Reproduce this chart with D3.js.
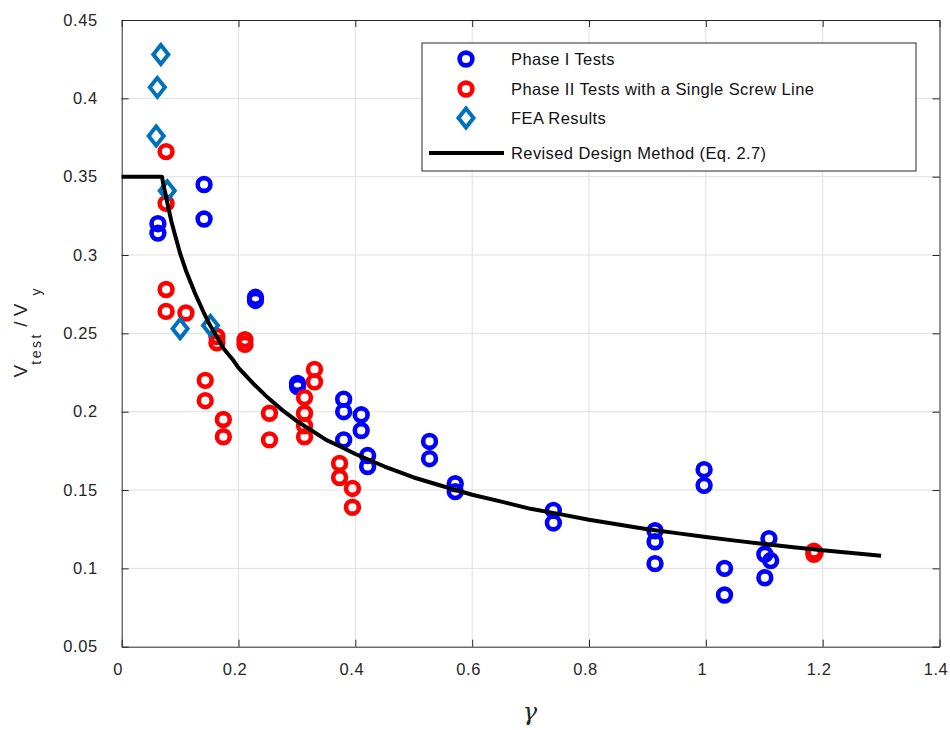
<!DOCTYPE html>
<html>
<head>
<meta charset="utf-8">
<script src="https://cdn.jsdelivr.net/npm/d3@7"></script>
<style>
  body { margin: 0; background: #fff; }
  text { font-family: "Liberation Sans", Arial, sans-serif; }
</style>
</head>
<body>
<script>
// Phase I tests (gamma, Vtest/Vy)
const phase1X = [0.062, 0.062, 0.141, 0.141, 0.229, 0.229, 0.301, 0.301, 0.380, 0.380, 0.380,
                 0.410, 0.410, 0.421, 0.421, 0.527, 0.527, 0.571, 0.571, 0.739, 0.739,
                 0.913, 0.913, 0.913, 0.997, 0.997, 1.032, 1.032, 1.108, 1.101, 1.111, 1.101];
const phase1Y = [0.320, 0.314, 0.345, 0.323, 0.273, 0.271, 0.218, 0.216, 0.208, 0.200, 0.182,
                 0.198, 0.188, 0.172, 0.165, 0.181, 0.170, 0.154, 0.149, 0.137, 0.129,
                 0.124, 0.117, 0.103, 0.163, 0.153, 0.100, 0.083, 0.119, 0.109, 0.105, 0.094];

// Phase II tests with a single screw line
const phase2X = [0.076, 0.076, 0.076, 0.076, 0.110, 0.163, 0.163, 0.211, 0.211, 0.143, 0.143,
                 0.174, 0.174, 0.253, 0.253, 0.313, 0.313, 0.313, 0.313, 0.330, 0.330,
                 0.373, 0.373, 0.395, 0.395, 1.185, 1.185, 1.187];
const phase2Y = [0.366, 0.333, 0.278, 0.264, 0.263, 0.248, 0.244, 0.246, 0.243, 0.220, 0.207,
                 0.195, 0.184, 0.199, 0.182, 0.209, 0.199, 0.191, 0.184, 0.227, 0.219,
                 0.167, 0.158, 0.151, 0.139, 0.111, 0.109, 0.110];

// FEA results
const feaX = [0.067, 0.061, 0.059, 0.078, 0.100, 0.152];
const feaY = [0.428, 0.407, 0.376, 0.341, 0.253, 0.255];

// Revised design method curve
const designX = [0, 0.069, 0.072, 0.075, 0.08, 0.085, 0.09, 0.095, 0.1, 0.11, 0.125, 0.14, 0.15,
                 0.16, 0.175, 0.19, 0.2, 0.225, 0.25, 0.275, 0.3, 0.325, 0.35, 0.375, 0.4, 0.45,
                 0.5, 0.55, 0.6, 0.65, 0.7, 0.75, 0.8, 0.85, 0.9, 0.95, 1.0, 1.05, 1.1, 1.15,
                 1.2, 1.25, 1.3];
const designY = [0.350, 0.350, 0.3437, 0.339, 0.330, 0.3216, 0.3145, 0.3078, 0.301, 0.290, 0.276,
                 0.2636, 0.256, 0.2498, 0.240, 0.2333, 0.228, 0.218, 0.209, 0.201, 0.194, 0.188,
                 0.182, 0.1776, 0.173, 0.165, 0.158, 0.1524, 0.147, 0.1426, 0.138, 0.1346, 0.131,
                 0.128, 0.125, 0.1225, 0.120, 0.1177, 0.1155, 0.1135, 0.1116, 0.1098, 0.108];

const xTicks = [0, 0.2, 0.4, 0.6, 0.8, 1, 1.2, 1.4];
const yTicks = [0.05, 0.1, 0.15, 0.2, 0.25, 0.3, 0.35, 0.4, 0.45];

const legendLabels = ["Phase I Tests", "Phase II Tests with a Single Screw Line",
                      "FEA Results", "Revised Design Method (Eq. 2.7)"];

const W = 950, H = 730;
const box = {left: 121.7, right: 939.5, top: 20, bottom: 646.7};

const svg = d3.select("body").append("svg")
  .attr("width", W).attr("height", H);

const x = d3.scaleLinear().domain([0, 1.4]).range([box.left, box.right]);
const y = d3.scaleLinear().domain([0.05, 0.45]).range([box.bottom, box.top]);

const axisColor = "#262626";

// grid
const grid = svg.append("g").attr("stroke", "#dfdfdf").attr("stroke-width", 1);
grid.selectAll(".gx").data(xTicks.slice(1, -1)).enter().append("line")
  .attr("x1", d => x(d)).attr("x2", d => x(d)).attr("y1", box.top).attr("y2", box.bottom);
grid.selectAll(".gy").data(yTicks.slice(1, -1)).enter().append("line")
  .attr("y1", d => y(d)).attr("y2", d => y(d)).attr("x1", box.left).attr("x2", box.right);

// axes, ticks inward like MATLAB
const fmt = d => String(+d.toFixed(2));
const xAxisG = svg.append("g").attr("transform", `translate(0,${box.bottom})`)
  .call(d3.axisBottom(x).tickValues(xTicks).tickFormat(fmt).tickSizeInner(-7).tickSizeOuter(0).tickPadding(17));
svg.append("g").attr("transform", `translate(${box.left},0)`)
  .call(d3.axisLeft(y).tickValues(yTicks).tickFormat(fmt).tickSizeInner(-7).tickSizeOuter(0).tickPadding(24));
svg.append("g").attr("transform", `translate(0,${box.top})`)
  .call(d3.axisTop(x).tickValues(xTicks).tickFormat("").tickSizeInner(-7).tickSizeOuter(0));
svg.append("g").attr("transform", `translate(${box.right},0)`)
  .call(d3.axisRight(y).tickValues(yTicks).tickFormat("").tickSizeInner(-7).tickSizeOuter(0));

svg.selectAll(".domain").attr("stroke", axisColor);
svg.selectAll(".tick line").attr("stroke", axisColor);
svg.selectAll(".tick text")
  .attr("fill", axisColor)
  .attr("letter-spacing", "0.6")
  .style("font-size", "16.5px")
  .style("font-family", "Liberation Sans, Arial, sans-serif");
xAxisG.selectAll(".tick text").attr("dx", -4);

// points
const markerR = 6.4, markerW = 4.6;
function circles(xs, ys, color) {
  svg.append("g").selectAll("circle").data(xs).enter().append("circle")
    .attr("cx", d => x(d)).attr("cy", (d, i) => y(ys[i]))
    .attr("r", markerR).attr("fill", "none")
    .attr("stroke", color).attr("stroke-width", markerW);
}
circles(phase1X, phase1Y, "#0000ff");
circles(phase2X, phase2Y, "#ff0000");

const diamond = "M0,-9.5 L7.5,0 L0,9.5 L-7.5,0 Z";
svg.append("g").selectAll("path").data(feaX).enter().append("path")
  .attr("d", diamond)
  .attr("transform", (d, i) => `translate(${x(d)},${y(feaY[i])})`)
  .attr("fill", "none").attr("stroke", "#0072bd").attr("stroke-width", 4);

// design curve
const line = d3.line().x(d => x(d)).y((d, i) => y(designY[i]));
svg.append("path").datum(designX)
  .attr("d", line).attr("fill", "none")
  .attr("stroke", "#000").attr("stroke-width", 4)
  .attr("stroke-linejoin", "round");

// legend
const lg = svg.append("g");
lg.append("rect").attr("x", 422).attr("y", 43).attr("width", 494).attr("height", 128)
  .attr("fill", "#fff").attr("stroke", axisColor).attr("stroke-width", 1);
const rows = [59, 89, 118, 153];
lg.append("circle").attr("cx", 466).attr("cy", rows[0]).attr("r", markerR)
  .attr("fill", "none").attr("stroke", "#0000ff").attr("stroke-width", markerW);
lg.append("circle").attr("cx", 466).attr("cy", rows[1]).attr("r", markerR)
  .attr("fill", "none").attr("stroke", "#ff0000").attr("stroke-width", markerW);
lg.append("path").attr("d", diamond).attr("transform", `translate(466,${rows[2]})`)
  .attr("fill", "none").attr("stroke", "#0072bd").attr("stroke-width", 4);
lg.append("line").attr("x1", 429).attr("x2", 504).attr("y1", rows[3]).attr("y2", rows[3])
  .attr("stroke", "#000").attr("stroke-width", 4);
lg.selectAll("text").data(legendLabels).enter().append("text")
  .attr("x", 511).attr("y", (d, i) => rows[i] + 6)
  .style("font-size", "16.5px").attr("letter-spacing", "0.4").attr("fill", "#111")
  .text(d => d);

// axis labels
svg.append("text")
  .attr("x", 530).attr("y", 720)
  .attr("text-anchor", "middle")
  .style("font-family", "DejaVu Serif, serif")
  .style("font-style", "italic")
  .style("font-size", "24px")
  .attr("fill", axisColor)
  .text("γ");

const yl = svg.append("text")
  .attr("transform", "translate(27,333) rotate(-90)")
  .attr("text-anchor", "middle")
  .style("font-size", "19px")
  .attr("fill", axisColor);
yl.append("tspan").text("V");
yl.append("tspan").attr("dy", 14).style("font-size", "14px").attr("letter-spacing", "2.5").text("test");
yl.append("tspan").attr("dy", -14).text(" / V");
yl.append("tspan").attr("dy", 14).attr("dx", 8).style("font-size", "14px").text("y");
</script>
</body>
</html>
